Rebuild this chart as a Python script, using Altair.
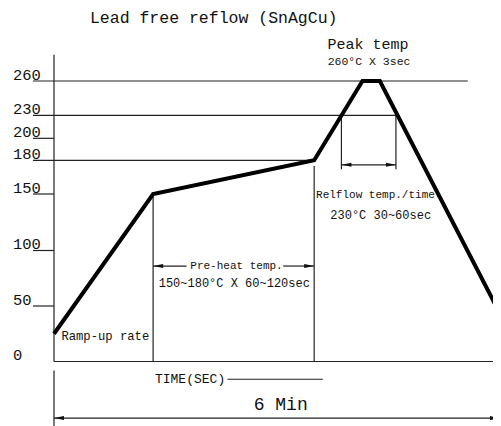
import altair as alt
import pandas as pd

# ---- data ----
# reflow profile (time in s, temperature in degC)
profile_time = [0, 80, 210, 249, 263, 360]
profile_temp = [25, 150, 180, 260, 260, 43]

# y axis labels
tick_values = [0, 50, 100, 150, 180, 200, 230, 260]
tick_labels = ["0", "50", "100", "150", "180", "200", "230", "260"]

# guide / dimension line segments: (t1, temp1) -> (t2, temp2)
seg_t1 = [-17, -17, -17, -17, -17, -17, -17, 0, 0, 80, 210, 232, 276, 0, 232, 80, 185, 140, 0]
seg_t2 = [334, 276, 0, 210, 0, 0, 0, 368, 0, 80, 210, 232, 276, 0, 276, 107, 210, 217, 360]
seg_y1 = [260, 230, 200, 180, 150, 100, 50, 0, 283, 150, 175, 230, 230, -8, 176, 86, 86, -16, -51]
seg_y2 = [260, 230, 200, 180, 150, 100, 50, 0, 0, 0, 0, 172, 172, -58, 176, 86, 86, -16, -51]

# arrow heads (tip position)
left_head_t = [232, 80, 0]
left_head_y = [176, 86, -51]
right_head_t = [276, 210, 360]
right_head_y = [176, 86, -51]

# annotations
left_text = ["Lead free reflow (SnAgCu)", "Relflow temp./time", "230°C 30~60sec",
             "150~180°C X 60~120sec", "Ramp-up rate", "TIME(SEC)"]
left_text_t = [29, 211.5, 223, 84.5, 6, 81.5]
left_text_y = [315, 149, 131, 70.5, 23, -16]
left_text_fs = [16.5, 11, 12, 12, 12.2, 13]

center_text = ["Peak temp", "260°C X 3sec", "Pre-heat temp.", "6 Min"]
center_text_t = [253.5, 254.3, 147.3, 183]
center_text_y = [292.5, 277, 86, -39]
center_text_fs = [15, 11.5, 11, 18]

# ---- scales ----
xs = alt.Scale(domain=[0, 360], range=[46, 492], zero=False, nice=False)
ys = alt.Scale(domain=tick_values,
               range=[353.5, 298, 242.5, 186, 152.3, 130.3, 107.3, 73],
               zero=False, nice=False)

FONT = "Liberation Mono"
INK = "#111111"

profile = pd.DataFrame({"t": profile_time, "temp": profile_temp})
segs = pd.DataFrame({"t": seg_t1, "t2": seg_t2, "temp": seg_y1, "temp2": seg_y2})
lh = pd.DataFrame({"t": left_head_t, "temp": left_head_y})
rh = pd.DataFrame({"t": right_head_t, "temp": right_head_y})
lt = pd.DataFrame({"t": left_text_t, "temp": left_text_y, "label": left_text, "fs": left_text_fs})
ct = pd.DataFrame({"t": center_text_t, "temp": center_text_y, "label": center_text, "fs": center_text_fs})
tk = pd.DataFrame({"t": [-33.1] * len(tick_values), "temp": tick_values, "label": tick_labels})

X = alt.X("t:Q", scale=xs, axis=None)
Y = alt.Y("temp:Q", scale=ys, axis=None)

rules = alt.Chart(segs).mark_rule(color="#222222", strokeWidth=1.2).encode(
    x=X, x2="t2:Q", y=Y, y2="temp2:Q"
)

line = alt.Chart(profile).mark_line(color="#000000", strokeWidth=4, strokeJoin="miter", strokeCap="butt").encode(
    x=X, y=Y, order="t:Q"
)

heads_l = alt.Chart(lh).mark_point(
    shape="M0,0L2,-0.4L2,0.4Z", size=100, filled=True, color=INK, opacity=1
).encode(x=X, y=Y)
heads_r = alt.Chart(rh).mark_point(
    shape="M0,0L-2,-0.4L-2,0.4Z", size=100, filled=True, color=INK, opacity=1
).encode(x=X, y=Y)

txt_l = alt.Chart(lt).mark_text(align="left", baseline="middle", font=FONT, color=INK).encode(
    x=X, y=Y, text="label:N", size=alt.Size("fs:Q", scale=None)
)
txt_c = alt.Chart(ct).mark_text(align="center", baseline="middle", font=FONT, color=INK).encode(
    x=X, y=Y, text="label:N", size=alt.Size("fs:Q", scale=None)
)
txt_tk = alt.Chart(tk).mark_text(align="left", baseline="alphabetic", dy=-1.5, font=FONT,
                                  fontSize=15.5, color=INK).encode(
    x=X, y=Y, text="label:N"
)

chart = alt.layer(rules, line, heads_l, heads_r, txt_l, txt_c, txt_tk).properties(
    width=485, height=418, autosize=alt.AutoSizeParams(type="none"), padding=0,
    background="white"
).configure_view(stroke=None)

chart.save("out.html", embed_options={"renderer": "svg", "actions": False})
